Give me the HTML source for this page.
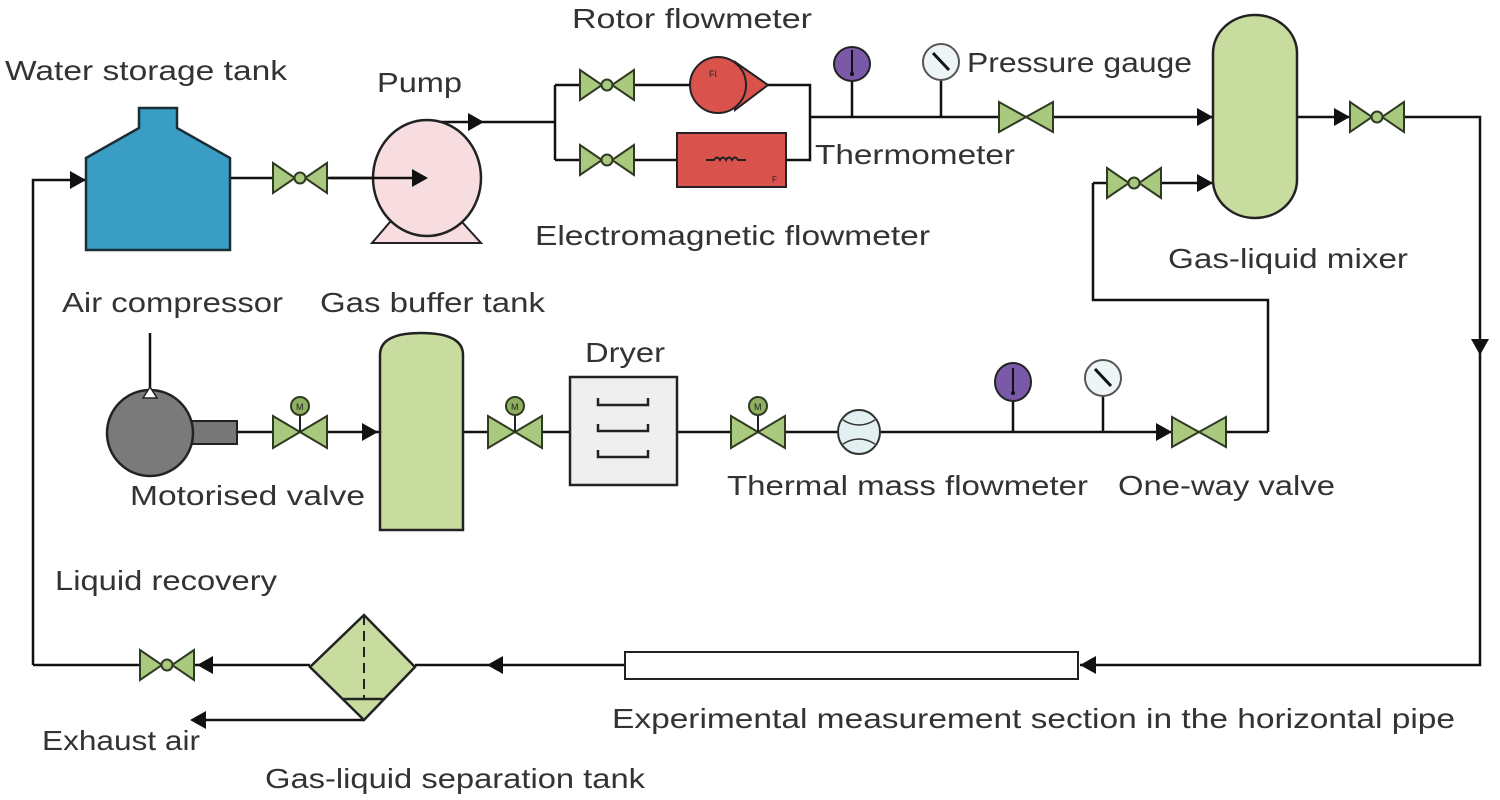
<!DOCTYPE html>
<html><head><meta charset="utf-8"><style>
html,body{margin:0;padding:0;background:#fff;}
svg{display:block;}
text{font-family:"Liberation Sans",sans-serif;font-size:28px;fill:#333;}
</style></head><body>
<svg width="1500" height="800" viewBox="0 0 1500 800" xmlns="http://www.w3.org/2000/svg">
<defs>
<g id="vc"><path d="M-27,-15 L-5,0 L-27,15 Z M27,-15 L5,0 L27,15 Z" fill="#a9c97e" stroke="#2f3a22" stroke-width="2"/><circle r="5.5" fill="#a9c97e" stroke="#2f3a22" stroke-width="2"/></g>
<g id="vp"><path d="M-27,-15 L0,0 L-27,15 Z M27,-15 L0,0 L27,15 Z" fill="#a9c97e" stroke="#2f3a22" stroke-width="2"/></g>
<g id="vm"><path d="M-27,-16 L0,0 L-27,16 Z M27,-16 L0,0 L27,16 Z" fill="#a9c97e" stroke="#2f3a22" stroke-width="2"/><line x1="0" y1="0" x2="0" y2="-18" stroke="#222" stroke-width="2"/><circle cy="-26" r="9" fill="#8fb060" stroke="#2f3a22" stroke-width="2"/><text x="-4" y="-22" style="font-size:9px;fill:#222">M</text></g>
<path id="ar" d="M0,0 L-16,-9 L-16,9 Z" fill="#111"/>
</defs>
<g stroke="#111" stroke-width="2.5" fill="none">
<path d="M33,665 V180 H86"/>
<path d="M230,178 H420"/>
<path d="M427,122 H555 M555,85 V160 M555,85 H690 M555,160 H677 M768,85 H810 V160 H786 M810,117 H1213"/>
<path d="M852,80 V117 M941,80 V117"/>
<path d="M1297,117 H1480 V665 H1080"/>
<path d="M625,665 H415 M310,665 H33"/>
<path d="M364,720 H195"/>
<path d="M1093,183 H1213 M1093,183 V300 H1268 V432"/>
<path d="M150,390 V333"/>
<path d="M237,432 H380 M463,432 H570 M677,432 H1268"/>
<path d="M1013,400 V432 M1103,396 V432"/>
</g>
<use href="#ar" transform="translate(86,180)"/>
<use href="#ar" transform="translate(484,122)"/>
<use href="#ar" transform="translate(1213,117)"/>
<use href="#ar" transform="translate(1350,117)"/>
<use href="#ar" transform="translate(1213,183)"/>
<use href="#ar" transform="translate(1480,355) rotate(90)"/>
<use href="#ar" transform="translate(1080,665) rotate(180)"/>
<use href="#ar" transform="translate(487,665) rotate(180)"/>
<use href="#ar" transform="translate(197,665) rotate(180)"/>
<use href="#ar" transform="translate(190,720) rotate(180)"/>
<use href="#ar" transform="translate(378,432)"/>
<use href="#ar" transform="translate(1172,432)"/>
<path d="M139,108 H177 V128 L230,158 V250 H86 V158 L139,128 Z" fill="#3a9dc3" stroke="#1b2e36" stroke-width="2.5"/>
<path d="M372,243 L390,222 H462 L481,243 Z" fill="#f8dde0" stroke="#222" stroke-width="2"/>
<ellipse cx="427" cy="178" rx="54" ry="58" fill="#f8dde0" stroke="#222" stroke-width="2.5"/>
<path d="M330,178 H420" stroke="#111" stroke-width="2.5"/>
<use href="#ar" transform="translate(428,178)"/>
<use href="#vc" x="300" y="178"/>
<use href="#vc" x="607" y="85"/>
<use href="#vc" x="607" y="160"/>
<use href="#vp" x="1026" y="117"/>
<use href="#vc" x="1377" y="117"/>
<use href="#vc" x="1134" y="183"/>
<use href="#vp" x="1199" y="432"/>
<use href="#vc" x="167" y="665"/>
<use href="#vm" x="300" y="432"/>
<use href="#vm" x="515" y="432"/>
<use href="#vm" x="758" y="432"/>
<path d="M735,62 L768,85 L735,110 Z" fill="#d9534c" stroke="#222" stroke-width="2"/>
<circle cx="718" cy="85" r="28" fill="#d9534c" stroke="#222" stroke-width="2"/>
<text x="709" y="77" style="font-size:9px;fill:#222">FI</text>
<rect x="677" y="133" width="109" height="54" fill="#d9534c" stroke="#222" stroke-width="2"/>
<path d="M706,160 h8 q3,-5 6,0 q3,-5 6,0 q3,-5 6,0 q3,-5 6,0 h8" stroke="#222" stroke-width="2" fill="none"/>
<text x="772" y="182" style="font-size:8px;fill:#222">F</text>
<ellipse cx="852" cy="64" rx="18" ry="17" fill="#7a5aa8" stroke="#222" stroke-width="2"/>
<path d="M852,50 V74" stroke="#111" stroke-width="2"/><circle cx="852" cy="74" r="2" fill="#111"/>
<circle cx="941" cy="62" r="18" fill="#eef5f6" stroke="#555" stroke-width="2"/>
<path d="M933,53 L949,70" stroke="#111" stroke-width="3"/>
<rect x="1213" y="15" width="84" height="203" rx="42" ry="38" fill="#c8dca0" stroke="#222" stroke-width="2.5"/>
<rect x="188" y="421" width="49" height="23" fill="#777" stroke="#222" stroke-width="2"/>
<circle cx="150" cy="433" r="43" fill="#7a7a7a" stroke="#222" stroke-width="2.5"/>
<path d="M150,387 L143,398 H157 Z" fill="#fff" stroke="#222" stroke-width="1.5"/>
<path d="M380,355 Q380,333 421,333 Q463,333 463,355 V530 H380 Z" fill="#c8dca0" stroke="#222" stroke-width="2.5"/>
<rect x="570" y="377" width="107" height="108" fill="#efefef" stroke="#222" stroke-width="2.5"/>
<path d="M598,398 V405 H648 V398 M598,424 V431 H648 V424 M598,450 V457 H648 V450" stroke="#222" stroke-width="2.5" fill="none"/>
<ellipse cx="859" cy="432" rx="21" ry="22" fill="#e2f0f2" stroke="#333" stroke-width="2"/>
<path d="M843,420 Q859,430 875,420 M843,444 Q859,434 875,444" stroke="#333" stroke-width="1.5" fill="none"/>
<ellipse cx="1013" cy="382" rx="18" ry="19" fill="#7a5aa8" stroke="#222" stroke-width="2"/>
<path d="M1013,368 V392" stroke="#111" stroke-width="2"/><circle cx="1013" cy="393" r="2" fill="#111"/>
<circle cx="1103" cy="378" r="18" fill="#eef5f6" stroke="#555" stroke-width="2"/>
<path d="M1095,369 L1111,386" stroke="#111" stroke-width="3"/>
<rect x="625" y="652" width="453" height="27" fill="#fff" stroke="#222" stroke-width="2"/>
<path d="M364,615 L415,667 L364,720 L310,667 Z" fill="#c8dca0" stroke="#222" stroke-width="2.5"/>
<path d="M364,615 V699" stroke="#222" stroke-width="2" stroke-dasharray="10,6"/>
<path d="M343,699 H385" stroke="#222" stroke-width="2.5"/>
<text x="572" y="28" textLength="240" lengthAdjust="spacingAndGlyphs">Rotor flowmeter</text>
<text x="5" y="80" textLength="282" lengthAdjust="spacingAndGlyphs">Water storage tank</text>
<text x="377" y="92" textLength="85" lengthAdjust="spacingAndGlyphs">Pump</text>
<text x="967" y="72" textLength="225" lengthAdjust="spacingAndGlyphs">Pressure gauge</text>
<text x="815" y="164" textLength="200" lengthAdjust="spacingAndGlyphs">Thermometer</text>
<text x="535" y="245" textLength="395" lengthAdjust="spacingAndGlyphs">Electromagnetic flowmeter</text>
<text x="1168" y="268" textLength="240" lengthAdjust="spacingAndGlyphs">Gas-liquid mixer</text>
<text x="62" y="312" textLength="221" lengthAdjust="spacingAndGlyphs">Air compressor</text>
<text x="320" y="312" textLength="225" lengthAdjust="spacingAndGlyphs">Gas buffer tank</text>
<text x="585" y="362" textLength="80" lengthAdjust="spacingAndGlyphs">Dryer</text>
<text x="130" y="505" textLength="235" lengthAdjust="spacingAndGlyphs">Motorised valve</text>
<text x="727" y="495" textLength="361" lengthAdjust="spacingAndGlyphs">Thermal mass flowmeter</text>
<text x="1118" y="495" textLength="217" lengthAdjust="spacingAndGlyphs">One-way valve</text>
<text x="55" y="590" textLength="222" lengthAdjust="spacingAndGlyphs">Liquid recovery</text>
<text x="612" y="728" textLength="843" lengthAdjust="spacingAndGlyphs">Experimental measurement section in the horizontal pipe</text>
<text x="42" y="750" textLength="158" lengthAdjust="spacingAndGlyphs">Exhaust air</text>
<text x="265" y="788" textLength="380" lengthAdjust="spacingAndGlyphs">Gas-liquid separation tank</text>
</svg>
</body></html>
